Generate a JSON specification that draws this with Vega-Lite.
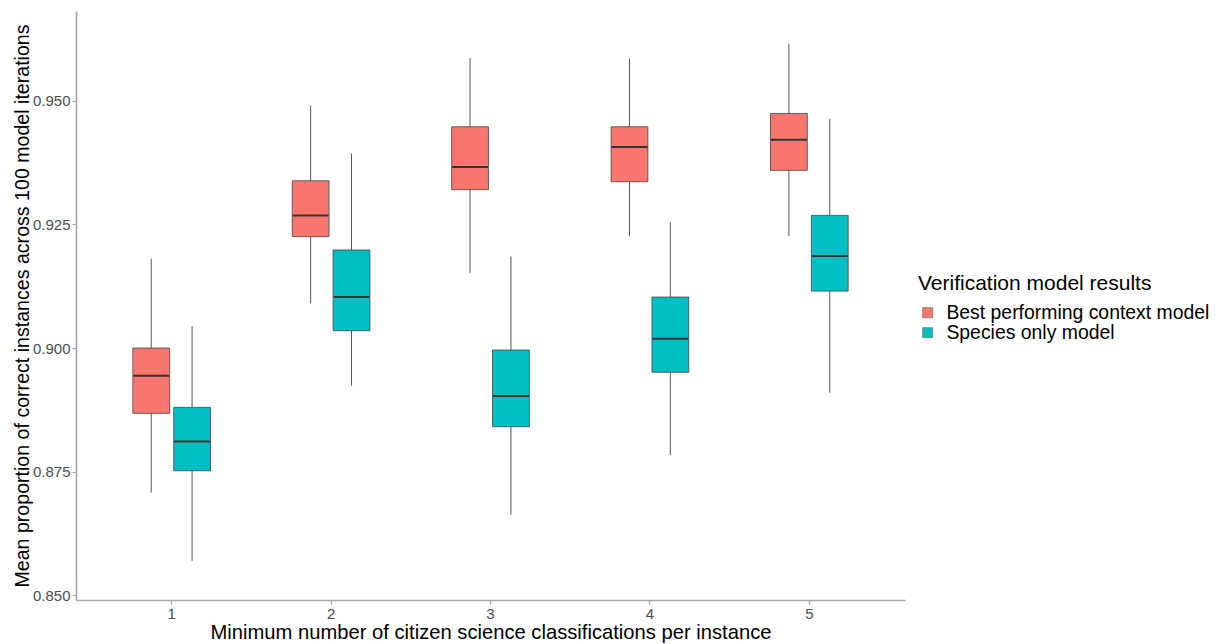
{
  "$schema": "https://vega.github.io/schema/vega-lite/v6.json",
  "autosize": {"type": "none"},
  "width": 829,
  "height": 589,
  "padding": {"left": 76, "top": 11, "right": 320, "bottom": 44},
  "background": "white",
  "config": {
    "view": {"stroke": null},
    "font": "Liberation Sans",
    "axis": {
      "grid": false,
      "domainColor": "#A6A6A6",
      "domainWidth": 1.6,
      "tickColor": "#A6A6A6",
      "tickWidth": 1.2,
      "tickSize": 4,
      "labelFont": "Liberation Sans",
      "labelFontSize": 15,
      "labelColor": "#4D4D4D",
      "labelPadding": 2,
      "titleFont": "Liberation Sans",
      "titleFontWeight": "normal",
      "titleColor": "#000000"
    }
  },
  "data": {
    "values": [
      {"n": "1", "model": "Best performing context model", "lower": 0.8708, "q1": 0.8868, "median": 0.8944, "q3": 0.9000, "upper": 0.9181},
      {"n": "1", "model": "Species only model", "lower": 0.8570, "q1": 0.8752, "median": 0.8811, "q3": 0.8880, "upper": 0.9044},
      {"n": "2", "model": "Best performing context model", "lower": 0.9090, "q1": 0.9225, "median": 0.9268, "q3": 0.9338, "upper": 0.9490},
      {"n": "2", "model": "Species only model", "lower": 0.8924, "q1": 0.9035, "median": 0.9103, "q3": 0.9198, "upper": 0.9393},
      {"n": "3", "model": "Best performing context model", "lower": 0.9151, "q1": 0.9320, "median": 0.9366, "q3": 0.9447, "upper": 0.9586},
      {"n": "3", "model": "Species only model", "lower": 0.8663, "q1": 0.8841, "median": 0.8903, "q3": 0.8996, "upper": 0.9185},
      {"n": "4", "model": "Best performing context model", "lower": 0.9226, "q1": 0.9336, "median": 0.9406, "q3": 0.9447, "upper": 0.9585},
      {"n": "4", "model": "Species only model", "lower": 0.8784, "q1": 0.8951, "median": 0.9019, "q3": 0.9103, "upper": 0.9254},
      {"n": "5", "model": "Best performing context model", "lower": 0.9226, "q1": 0.9359, "median": 0.9421, "q3": 0.9474, "upper": 0.9615},
      {"n": "5", "model": "Species only model", "lower": 0.8910, "q1": 0.9115, "median": 0.9186, "q3": 0.9268, "upper": 0.9463}
    ]
  },
  "encoding": {
    "x": {
      "field": "n",
      "type": "nominal",
      "scale": {"type": "band", "paddingInner": 0, "paddingOuter": 0.1},
      "axis": {"title": "Minimum number of citizen science classifications per instance", "labelAngle": 0, "titlePadding": 1, "titleFontSize": 20.2}
    },
    "xOffset": {
      "field": "model",
      "type": "nominal",
      "scale": {"paddingInner": 0.1, "paddingOuter": 1.05}
    }
  },
  "layer": [
    {
      "mark": {"type": "rule", "color": "#555555", "strokeWidth": 1},
      "encoding": {
        "y": {
          "field": "lower",
          "type": "quantitative",
          "scale": {"domain": [0.84909, 0.9681], "nice": false, "zero": false},
          "axis": {
            "title": "Mean proportion of correct instances across 100 model iterations",
            "values": [0.85, 0.875, 0.9, 0.925, 0.95],
            "format": ".3f",
            "titlePadding": 0,
            "titleFontSize": 19.6
          }
        },
        "y2": {"field": "upper"}
      }
    },
    {
      "mark": {"type": "bar", "stroke": "#444444", "strokeWidth": 0.8},
      "encoding": {
        "y": {"field": "q1", "type": "quantitative"},
        "y2": {"field": "q3"},
        "fill": {
          "field": "model",
          "type": "nominal",
          "scale": {"domain": ["Best performing context model", "Species only model"], "range": ["#F8766D", "#00BFC4"]},
          "legend": {
            "title": "Verification model results",
            "orient": "none",
            "legendX": 842,
            "legendY": 262,
            "titleFont": "Liberation Sans",
            "titleFontSize": 21,
            "titleFontWeight": "normal",
            "titleColor": "#000000",
            "titlePadding": 9,
            "titleLimit": 400,
            "labelFont": "Liberation Sans",
            "labelFontSize": 19.4,
            "labelColor": "#000000",
            "labelLimit": 400,
            "labelOffset": 9,
            "symbolType": "square",
            "symbolSize": 100,
            "symbolStrokeColor": "#777777",
            "symbolStrokeWidth": 0.8,
            "rowPadding": -2
          }
        }
      }
    },
    {
      "mark": {"type": "tick", "color": "#333333", "thickness": 2, "size": 36, "opacity": 1},
      "encoding": {
        "y": {"field": "median", "type": "quantitative"}
      }
    }
  ]
}
